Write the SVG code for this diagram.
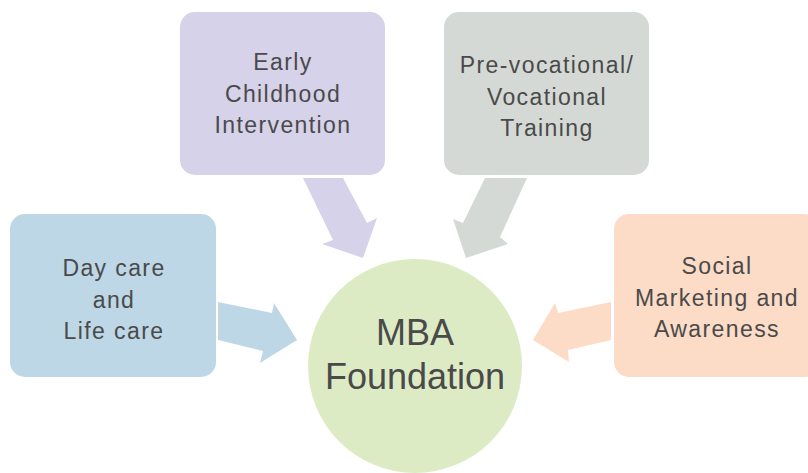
<svg xmlns="http://www.w3.org/2000/svg" width="808" height="473" viewBox="0 0 808 473">
<style>
text{font-family:"Liberation Sans",Arial,sans-serif;fill:#4a4a4a;text-anchor:middle}
.t{font-size:23px;letter-spacing:1.4px}
.c{font-size:36px}
.blue{fill:#BDD7E7}.purple{fill:#D5D2E9}.grey{fill:#D4D9D5}.peach{fill:#FCDCC7}.green{fill:#DDEBC5}
</style>
<rect width="808" height="473" fill="#ffffff"/>
<g id="connectors">
<polygon class="purple" points="303,178 333,240 322,244 363,258 377,218 367,223 343,178"/>
<polygon class="grey" points="527,178 500,237 508,244 466,258 453,219 463,223 485,178"/>
<polygon class="blue" points="218,302 272,313 274,303 297,340 260,363 263,351 218,340"/>
<polygon class="peach" points="611,302 558,313 555,303 533,340 569,362 568,350 611,340"/>
</g>
<g id="node-daycare">
<rect class="blue" x="10" y="214" width="206" height="163" rx="15"/>
<text class="t" x="114" y="276">Day care</text>
<text class="t" x="114" y="308">and</text>
<text class="t" x="114" y="339">Life care</text>
</g>
<g id="node-early">
<rect class="purple" x="180" y="12" width="205" height="163" rx="15"/>
<text class="t" x="283" y="70">Early</text>
<text class="t" x="283" y="102">Childhood</text>
<text class="t" x="283" y="133">Intervention</text>
</g>
<g id="node-vocational">
<rect class="grey" x="444" y="12" width="205" height="163" rx="15"/>
<text class="t" x="547" y="73">Pre-vocational/</text>
<text class="t" x="547" y="105">Vocational</text>
<text class="t" x="547" y="136">Training</text>
</g>
<g id="node-social">
<rect class="peach" x="614" y="214" width="205" height="163" rx="15"/>
<text class="t" x="717" y="274">Social</text>
<text class="t" x="717" y="306">Marketing and</text>
<text class="t" x="717" y="337">Awareness</text>
</g>
<g id="node-mba">
<circle class="green" cx="415" cy="366" r="107"/>
<text class="c" x="415" y="345">MBA</text>
<text class="c" x="415" y="389">Foundation</text>
</g>
</svg>
